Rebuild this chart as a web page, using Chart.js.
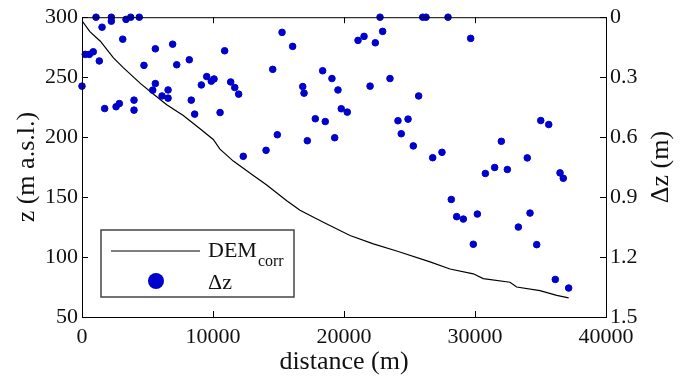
<!DOCTYPE html>
<html>
<head>
<meta charset="utf-8">
<script src="https://cdn.jsdelivr.net/npm/chart.js@4.4.0/dist/chart.umd.min.js"></script>
<style>
html, body { margin: 0; padding: 0; background: #fff; }
</style>
</head>
<body>
<canvas id="grafico" width="686" height="379"></canvas>
<script>
// perfil DEM corregido (distancia en m, cota en m s.n.m.)
const distLinea = [0, 600, 1400, 2400, 3150, 4430, 5440, 6470, 7730, 9010, 10020, 10530, 11550, 13080, 14100,
    15630, 16640, 18420, 20460, 22240, 24020, 26570, 28090, 29870, 30630, 32670, 33180, 34960, 36240, 37150];
const zDem = [297, 288, 280, 266, 258, 245, 236, 227, 218, 207, 198, 190, 180, 168, 160,
    147, 139, 129, 118, 111, 105, 96, 90, 86, 82, 79, 75, 72, 68, 66];

// diferencias dz en cada punto
const distPuntos = [0, 250, 560, 860, 1070, 1320, 1530, 1730, 2240, 2240, 2600, 2850, 3110, 3360, 3720, 3970, 3970,
    4370, 4730, 5400, 5600, 5600, 6110, 6570, 6570, 6920, 7230, 8190, 8340, 8600, 9110, 9520, 9870, 10080,
    10540, 10890, 11350, 11660, 11960, 12310, 14050, 14560, 14910, 15270, 16080, 16850, 16950, 17200, 17810,
    18370, 18570, 19080, 19290, 19540, 19790, 20250, 21070, 21530, 21990, 22390, 22750, 22950, 23510, 24120,
    24370, 24890, 25290, 25700, 26010, 26260, 26770, 27480, 27940, 28190, 28600, 29110, 29670, 29870, 30180,
    30790, 31500, 32010, 32470, 33310, 33990, 34200, 34710, 35020, 35630, 36130, 36490, 36740, 37150];
const dz = [0.345, 0.186, 0.186, 0.173, 0, 0.219, 0.05, 0.457, 0, 0.02, 0.448, 0.432, 0.11, 0.011, 0, 0.415, 0.465,
    0, 0.241, 0.365, 0.158, 0.332, 0.394, 0.364, 0.405, 0.135, 0.238, 0.213, 0.415, 0.485, 0.339, 0.297, 0.32, 0.309,
    0.477, 0.168, 0.324, 0.352, 0.385, 0.696, 0.666, 0.261, 0.588, 0.076, 0.146, 0.347, 0.38, 0.618, 0.508,
    0.268, 0.522, 0.307, 0.603, 0.364, 0.458, 0.475, 0.116, 0.096, 0.345, 0.128, 0, 0.071, 0.307, 0.518,
    0.583, 0.51, 0.644, 0.394, 0, 0, 0.703, 0.676, 0, 0.912, 0.998, 1.01, 0.106, 1.136, 0.985,
    0.782, 0.752, 0.621, 0.762, 1.05, 0.704, 0.98, 1.138, 0.517, 0.537, 1.312, 0.779, 0.806, 1.355];

const xTicks = [0, 10000, 20000, 30000, 40000];
const zTicks = [50, 100, 150, 200, 250, 300];
const dzTicks = [0, 0.3, 0.6, 0.9, 1.2, 1.5];

const familia = '"Liberation Serif"';
const azul = 'rgb(0, 0, 204)';

// marco, ticks hacia dentro, titulos y leyenda
const extras = {
    id: 'extras',
    afterDraw(chart) {
        const ctx = chart.ctx;
        const a = chart.chartArea;
        const sx = chart.scales.x, sy = chart.scales.y, sy2 = chart.scales.y2;
        ctx.save();
        ctx.strokeStyle = '#000';
        ctx.lineWidth = 1;
        ctx.strokeRect(a.left + 0.5, a.top + 0.5, a.right - a.left, a.bottom - a.top);
        ctx.beginPath();
        xTicks.forEach(v => {
            const px = Math.round(sx.getPixelForValue(v)) + 0.5;
            ctx.moveTo(px, a.bottom); ctx.lineTo(px, a.bottom - 6);
            ctx.moveTo(px, a.top); ctx.lineTo(px, a.top + 6);
        });
        zTicks.forEach(v => {
            const py = Math.round(sy.getPixelForValue(v)) + 0.5;
            ctx.moveTo(a.left, py); ctx.lineTo(a.left + 6, py);
        });
        dzTicks.forEach(v => {
            const py = Math.round(sy2.getPixelForValue(v)) + 0.5;
            ctx.moveTo(a.right, py); ctx.lineTo(a.right - 6, py);
        });
        ctx.stroke();

        // titulos de ejes
        ctx.fillStyle = '#111';
        ctx.font = '26px ' + familia;
        ctx.textAlign = 'center';
        ctx.textBaseline = 'middle';
        ctx.fillText('distance (m)', (a.left + a.right) / 2, 362);
        ctx.save();
        ctx.translate(27, (a.top + a.bottom) / 2);
        ctx.rotate(-Math.PI / 2);
        ctx.fillText('z (m a.s.l.)', 0, 0);
        ctx.restore();
        ctx.save();
        ctx.translate(661, (a.top + a.bottom) / 2);
        ctx.rotate(-Math.PI / 2);
        ctx.fillText('\u0394z (m)', 0, 0);
        ctx.restore();

        // leyenda
        ctx.fillStyle = '#fff';
        ctx.fillRect(101, 230, 193, 67);
        ctx.strokeStyle = '#444';
        ctx.lineWidth = 1.5;
        ctx.strokeRect(101, 230, 193, 67);
        ctx.strokeStyle = '#000';
        ctx.lineWidth = 1.2;
        ctx.beginPath();
        ctx.moveTo(111, 251); ctx.lineTo(200, 251);
        ctx.stroke();
        ctx.fillStyle = azul;
        ctx.beginPath();
        ctx.arc(156, 281, 8, 0, Math.PI * 2);
        ctx.fill();
        ctx.fillStyle = '#111';
        ctx.textAlign = 'left';
        ctx.textBaseline = 'alphabetic';
        ctx.font = '22px ' + familia;
        ctx.fillText('DEM', 208, 257);
        const w = ctx.measureText('DEM').width;
        ctx.font = '16px ' + familia;
        ctx.fillText('corr', 208 + w + 1, 266);
        ctx.font = '22px ' + familia;
        ctx.fillText('\u0394z', 208, 289);
        ctx.restore();
    }
};

const fuenteTicks = { family: familia, size: 22 };

const getGrafic = document.getElementById('grafico').getContext('2d');
const myChart = new Chart(getGrafic, {
    type: 'scatter',
    data: {
        datasets: [{
            label: '\u0394z',
            data: distPuntos.map((d, i) => ({ x: d, y: dz[i] })),
            yAxisID: 'y2',
            backgroundColor: azul,
            borderColor: azul,
            pointRadius: 3.3,
            pointHoverRadius: 3.3,
            clip: false,
            order: 0
        }, {
            label: 'DEMcorr',
            type: 'line',
            data: distLinea.map((d, i) => ({ x: d, y: zDem[i] })),
            yAxisID: 'y',
            borderColor: '#000',
            borderWidth: 1.2,
            pointRadius: 0,
            fill: false,
            tension: 0,
            order: 1
        }]
    },
    options: {
        responsive: false,
        animation: false,
        layout: { padding: { top: 16, left: 0, right: 0, bottom: 0 } },
        plugins: { legend: { display: false }, tooltip: { enabled: false } },
        scales: {
            x: {
                type: 'linear', min: 0, max: 40000,
                afterFit(scale) { scale.height = 62; },
                afterBuildTicks(scale) { scale.ticks = xTicks.map(v => ({ value: v })); },
                grid: { display: false, drawTicks: false },
                border: { display: false },
                ticks: {
                    padding: 7, color: '#111', font: fuenteTicks,
                    maxRotation: 0, autoSkip: false,
                    callback: v => String(v)
                }
            },
            y: {
                type: 'linear', position: 'left', min: 50, max: 300,
                afterFit(scale) { scale.width = 82; },
                afterBuildTicks(scale) { scale.ticks = zTicks.map(v => ({ value: v })); },
                grid: { display: false, drawTicks: false },
                border: { display: false },
                ticks: {
                    padding: 4, color: '#111', font: fuenteTicks,
                    callback: v => String(v)
                }
            },
            y2: {
                type: 'linear', position: 'right', min: 0, max: 1.5, reverse: true,
                afterFit(scale) { scale.width = 80; },
                afterBuildTicks(scale) { scale.ticks = dzTicks.map(v => ({ value: v })); },
                grid: { display: false, drawTicks: false },
                border: { display: false },
                ticks: {
                    padding: 4, color: '#111', font: fuenteTicks,
                    callback: v => String(v)
                }
            }
        }
    },
    plugins: [extras]
});
</script>
</body>
</html>
